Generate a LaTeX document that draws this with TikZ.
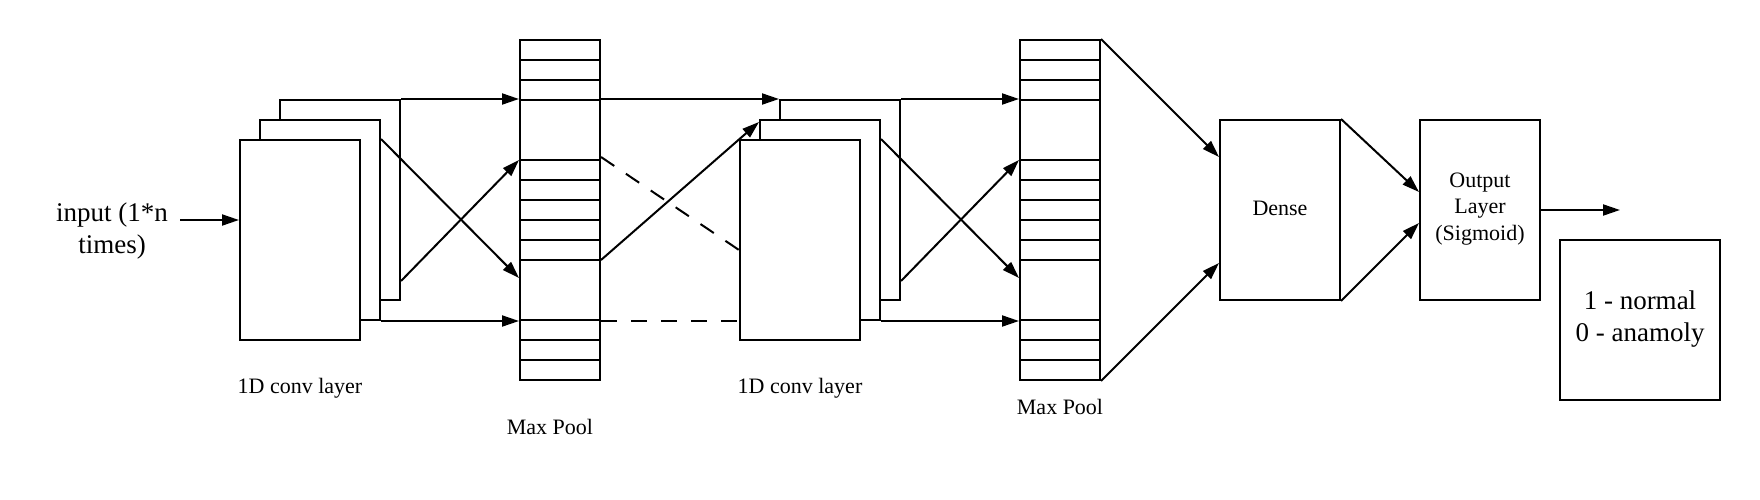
\documentclass[tikz,border=0pt]{standalone}
\usepackage{fontspec}
\setmainfont{Liberation Serif}
\usetikzlibrary{arrows.meta,calc}
\begin{document}
\begin{tikzpicture}[x=1pt,y=-1pt,line width=2pt,
  box/.style={draw,fill=white,rectangle,inner sep=0pt},
  conv/.style={box,minimum width=120pt,minimum height=200pt},
  pool/.style={box,minimum width=80pt,minimum height=340pt},
  arr/.style={-{Triangle[length=17pt,width=11pt]}},
  dsh/.style={dash pattern=on 16pt off 14pt},
  small/.style={font=\fontsize{22}{26.5}\selectfont,align=center,inner sep=0pt},
  big/.style={font=\fontsize{27}{32}\selectfont,align=center,inner sep=0pt}]
\useasboundingbox (0,0) rectangle (1760,500);
% input
\node[big] (inp) at (112,231) {input (1*n\\times)};
\coordinate (inA) at (180,220);
% conv layer 1
\node[conv] (c1c) at (340,200) {};
\node[conv] (c1b) at (320,220) {};
\node[conv] (c1a) at (300,240) {};
\node[small] (l1) at (300,388) {1D conv layer};
% pool 1
\node[pool] (p1) at (560,210) {};
\foreach \y in {60,80,100,160,180,200,220,240,260,320,340,360}
  \draw (p1.west |- 0,\y) -- (p1.east |- 0,\y);
\node[small] (l2) at (550,427) {Max Pool};
% conv layer 2
\node[conv] (c2c) at (840,200) {};
\node[conv] (c2b) at (820,220) {};
\node[conv] (c2a) at (800,240) {};
\node[small] (l3) at (800,388) {1D conv layer};
% pool 2
\node[pool] (p2) at (1060,210) {};
\foreach \y in {60,80,100,160,180,200,220,240,260,320,340,360}
  \draw (p2.west |- 0,\y) -- (p2.east |- 0,\y);
\node[small] (l4) at (1060,407) {Max Pool};
% dense, output, result
\node[box,minimum width=120pt,minimum height=180pt] (dense) at (1280,210) {};
\node[small] (dl) at (1280,208) {Dense};
\node[box,minimum width=120pt,minimum height=180pt] (out) at (1480,210) {};
\node[small] (ol) at (1480,209) {Output\\Layer\\(Sigmoid)};
\node[box,minimum width=160pt,minimum height=160pt] (res) at (1640,320) {};
\node[big] (rl) at (1640,319) {1 - normal\\0 - anamoly};
\coordinate (oA) at (1620,210);
% connectors
\draw[arr] (inA) -- (inA -| c1a.west);
\draw[arr] (c1c.north east) -- (c1c.north east -| p1.west);
\draw[arr] ($(c1b.north east)+(0,20)$) -- ($(p1.west)+(0,68)$);
\draw[arr] ($(c1c.south east)+(0,-20)$) -- ($(p1.west)+(0,-50)$);
\draw[arr] (c1b.south east) -- (c1b.south east -| p1.west);
\draw[arr] (p1.east |- c2c.north) -- (c2c.north west);
\draw[arr] ($(p1.east)+(0,50)$) -- ($(c2b.north west)+(0,3)$);
\draw[dsh] ($(p1.east)+(0,-53)$) -- ($(c2a.west)+(0,10)$);
\draw[dsh] (p1.east |- c2b.south) -- (c2a.west |- c2b.south);
\draw[arr] (c2c.north east) -- (c2c.north east -| p2.west);
\draw[arr] ($(c2b.north east)+(0,20)$) -- ($(p2.west)+(0,68)$);
\draw[arr] ($(c2c.south east)+(0,-20)$) -- ($(p2.west)+(0,-50)$);
\draw[arr] (c2b.south east) -- (c2b.south east -| p2.west);
\draw[arr] (p2.north east) -- ($(dense.north west)+(0,38)$);
\draw[arr] (p2.south east) -- ($(dense.south west)+(0,-38)$);
\draw[arr] (dense.north east) -- ($(out.north west)+(0,73)$);
\draw[arr] (dense.south east) -- ($(out.south west)+(0,-78)$);
\draw[arr] (out.east) -- (oA);
\end{tikzpicture}
\end{document}
